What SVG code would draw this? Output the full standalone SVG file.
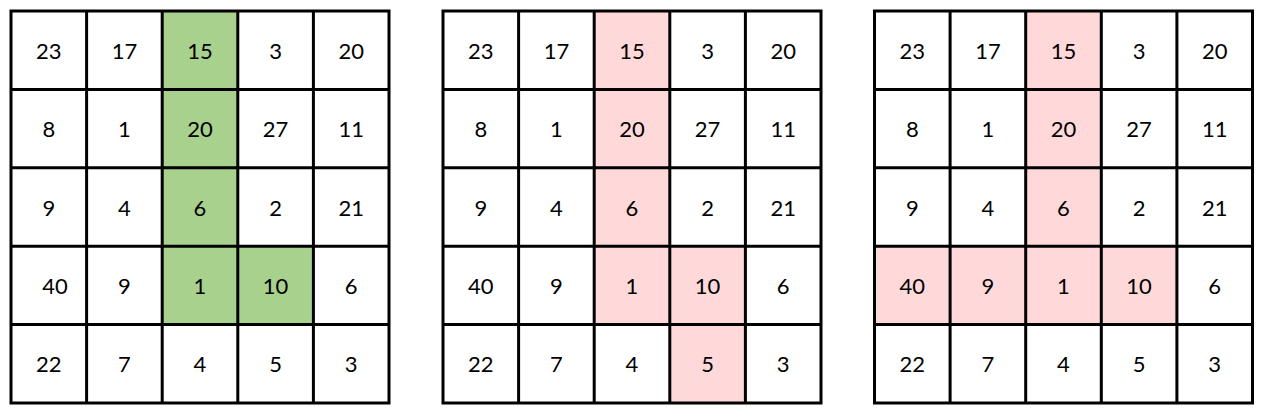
<svg xmlns="http://www.w3.org/2000/svg" width="1270" height="418" viewBox="0 0 1270 418">
<style>
.g{fill:#A9D18E}
.p{fill:#FFD9D9}
text{font-family:"Lato","Liberation Sans",sans-serif;font-size:22px;fill:#000;text-anchor:middle;dominant-baseline:central}
</style>
<defs>
<g id="grid">
<path d="M0 0H378V392H0Z M75.6 0V392 M151.2 0V392 M226.8 0V392 M302.4 0V392 M0 78.4H378 M0 156.8H378 M0 235.2H378 M0 313.6H378" fill="none" stroke="#000" stroke-width="3"/>
</g>
</defs>
<g id="grid1" transform="translate(11,11)">
<rect class="g" x="151.2" y="0" width="75.6" height="313.6"/>
<rect class="g" x="226.8" y="235.2" width="75.6" height="78.4"/>
<use href="#grid"/>
<g id="g1-r1"><text x="37.8" y="39.2">23</text><text x="113.4" y="39.2">17</text><text x="189" y="39.2">15</text><text x="264.6" y="39.2">3</text><text x="340.2" y="39.2">20</text></g>
<g id="g1-r2"><text x="37.8" y="117.6">8</text><text x="113.4" y="117.6">1</text><text x="189" y="117.6">20</text><text x="264.6" y="117.6">27</text><text x="340.2" y="117.6">11</text></g>
<g id="g1-r3"><text x="37.8" y="196">9</text><text x="113.4" y="196">4</text><text x="189" y="196">6</text><text x="264.6" y="196">2</text><text x="340.2" y="196">21</text></g>
<g id="g1-r4"><text x="44" y="274.4">40</text><text x="113.4" y="274.4">9</text><text x="189" y="274.4">1</text><text x="264.6" y="274.4">10</text><text x="340.2" y="274.4">6</text></g>
<g id="g1-r5"><text x="37.8" y="352.8">22</text><text x="113.4" y="352.8">7</text><text x="189" y="352.8">4</text><text x="264.6" y="352.8">5</text><text x="340.2" y="352.8">3</text></g>
</g>
<g id="grid2" transform="translate(443,11)">
<rect class="p" x="151.2" y="0" width="75.6" height="313.6"/>
<rect class="p" x="226.8" y="235.2" width="75.6" height="156.8"/>
<use href="#grid"/>
<g id="g2-r1"><text x="37.8" y="39.2">23</text><text x="113.4" y="39.2">17</text><text x="189" y="39.2">15</text><text x="264.6" y="39.2">3</text><text x="340.2" y="39.2">20</text></g>
<g id="g2-r2"><text x="37.8" y="117.6">8</text><text x="113.4" y="117.6">1</text><text x="189" y="117.6">20</text><text x="264.6" y="117.6">27</text><text x="340.2" y="117.6">11</text></g>
<g id="g2-r3"><text x="37.8" y="196">9</text><text x="113.4" y="196">4</text><text x="189" y="196">6</text><text x="264.6" y="196">2</text><text x="340.2" y="196">21</text></g>
<g id="g2-r4"><text x="37.8" y="274.4">40</text><text x="113.4" y="274.4">9</text><text x="189" y="274.4">1</text><text x="264.6" y="274.4">10</text><text x="340.2" y="274.4">6</text></g>
<g id="g2-r5"><text x="37.8" y="352.8">22</text><text x="113.4" y="352.8">7</text><text x="189" y="352.8">4</text><text x="264.6" y="352.8">5</text><text x="340.2" y="352.8">3</text></g>
</g>
<g id="grid3" transform="translate(874.5,11)">
<rect class="p" x="151.2" y="0" width="75.6" height="313.6"/>
<rect class="p" x="0" y="235.2" width="302.4" height="78.4"/>
<use href="#grid"/>
<g id="g3-r1"><text x="37.8" y="39.2">23</text><text x="113.4" y="39.2">17</text><text x="189" y="39.2">15</text><text x="264.6" y="39.2">3</text><text x="340.2" y="39.2">20</text></g>
<g id="g3-r2"><text x="37.8" y="117.6">8</text><text x="113.4" y="117.6">1</text><text x="189" y="117.6">20</text><text x="264.6" y="117.6">27</text><text x="340.2" y="117.6">11</text></g>
<g id="g3-r3"><text x="37.8" y="196">9</text><text x="113.4" y="196">4</text><text x="189" y="196">6</text><text x="264.6" y="196">2</text><text x="340.2" y="196">21</text></g>
<g id="g3-r4"><text x="37.8" y="274.4">40</text><text x="113.4" y="274.4">9</text><text x="189" y="274.4">1</text><text x="264.6" y="274.4">10</text><text x="340.2" y="274.4">6</text></g>
<g id="g3-r5"><text x="37.8" y="352.8">22</text><text x="113.4" y="352.8">7</text><text x="189" y="352.8">4</text><text x="264.6" y="352.8">5</text><text x="340.2" y="352.8">3</text></g>
</g>
<g id="connectors"></g>
</svg>
